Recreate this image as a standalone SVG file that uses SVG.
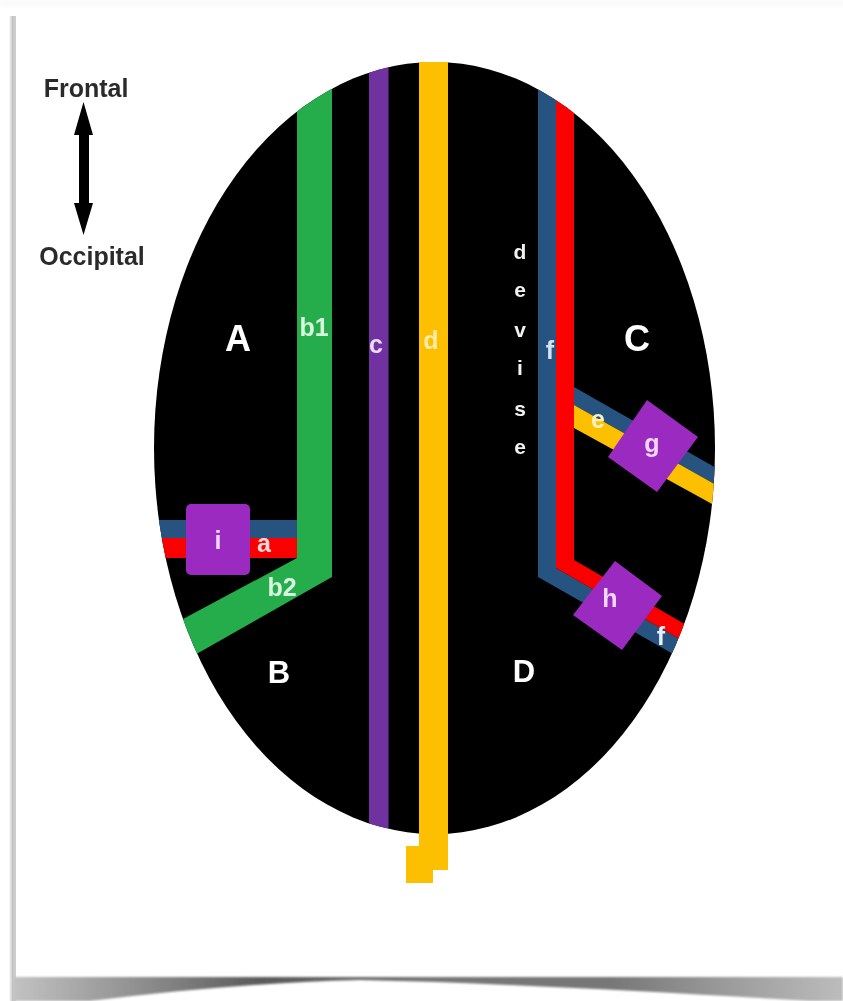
<svg xmlns="http://www.w3.org/2000/svg" width="843" height="1001" viewBox="0 0 843 1001">
<style>
text{font-family:"Liberation Sans",Arial,sans-serif;text-anchor:middle}
.big{font-size:36px;font-weight:bold;fill:#fff}
.mid{font-size:31px;font-weight:bold;fill:#fff}
.lab{font-size:25px;font-weight:bold;fill:#f4d8fa}
.vert{font-size:21px;font-weight:bold;fill:#f2f2f2}
.dir{font-size:25px;font-weight:bold;fill:#2b2b2b}
.box{fill:#9b2ac0}
.blue{fill:#25527f}
.red{fill:#fb0006}
.gold{fill:#fdc000}
</style>
<defs>
<clipPath id="head"><ellipse cx="434.5" cy="448" rx="280.5" ry="386"/></clipPath>
<linearGradient id="curl" x1="0" y1="0" x2="1" y2="0">
<stop offset="0" stop-color="#c2c2c2"/><stop offset=".16" stop-color="#8c8c8c"/><stop offset=".3" stop-color="#5a5a5a"/><stop offset=".5" stop-color="#777"/><stop offset=".72" stop-color="#777"/><stop offset=".88" stop-color="#a0a0a0"/><stop offset="1" stop-color="#bcbcbc"/>
</linearGradient>
<linearGradient id="edge" x1="0" y1="0" x2="1" y2="0">
<stop offset="0" stop-color="#fff"/><stop offset=".5" stop-color="#c4c4c4"/><stop offset="1" stop-color="#d0d0d0"/>
</linearGradient>
<filter id="soft" x="-5%" y="-20%" width="110%" height="140%"><feGaussianBlur stdDeviation="1.2"/></filter>
<filter id="blur" x="-5%" y="-5%" width="110%" height="110%"><feGaussianBlur stdDeviation="0.7"/></filter>
</defs>
<rect width="843" height="1001" fill="#fff"/>
<g id="sheet-frame">
<rect x="0" y="0" width="843" height="7" fill="#fafafa" filter="url(#soft)"/>
<rect x="9" y="16" width="7" height="985" fill="url(#edge)"/>
<path d="M14,977 L843,977 L843,1001 L810,1001 C660,992 500,983 360,980 C270,982 180,990 90,1001 L14,1001 Z" fill="url(#curl)" filter="url(#soft)"/>
</g>
<g id="head-outline"><ellipse cx="434.5" cy="448" rx="280.5" ry="386" fill="#000" filter="url(#blur)"/></g>
<g id="connectors">
<g clip-path="url(#head)" filter="url(#blur)">
<path id="tract-a-blue" class="blue" d="M150,520H297V538H150Z"/>
<path id="tract-a-red" class="red" d="M150,538H297V558H150Z"/>
<path id="tract-e-blue" class="blue" d="M574,387L725,473V490L574,405Z"/>
<path id="tract-e-gold" class="gold" d="M574,405L725,490V511L574,428Z"/>
<path id="tract-b" fill="#25ad4b" d="M297,60H332V577L170,669L170,626L297,558Z"/>
<path id="tract-c" fill="#7030a0" d="M369,50H388.500V840H369Z"/>
<path id="tract-f-blue" class="blue" d="M538,60H556V568L690,645L680,658L538,577Z"/>
<path id="tract-f-red" class="red" d="M556,60H574V560L695,630L690,645L556,568Z"/>
</g>
<path id="tract-d" class="gold" filter="url(#blur)" d="M419,62H448V870H433V883H406V846H419Z"/>
</g>
<g id="node-i"><rect class="box" x="186" y="504" width="64" height="71" rx="5" filter="url(#blur)"/><text class="lab" x="218" y="549" filter="url(#blur)">i</text></g>
<g id="node-g"><path class="box" d="M647,400L698,437L657,492L608,457Z" filter="url(#blur)"/><text class="lab" x="652" y="452" filter="url(#blur)">g</text></g>
<g id="node-h"><path class="box" d="M615,561L662,596L622,650L573,615Z" filter="url(#blur)"/><text class="lab" x="610" y="607" filter="url(#blur)">h</text></g>
<g id="labels" filter="url(#blur)">
<text class="big" x="238" y="351">A</text>
<text class="big" x="637" y="351">C</text>
<text class="mid" x="279" y="683">B</text>
<text class="mid" x="524" y="682">D</text>
<text class="lab" x="314" y="336" style="fill:#d8f5df">b1</text>
<text class="lab" x="376" y="353" style="fill:#eadcf2">c</text>
<text class="lab" x="431" y="349" style="fill:#fde9a8">d</text>
<text class="lab" x="550" y="359" style="fill:#d5e2f0">f</text>
<text class="lab" x="598" y="428" style="fill:#fdf0c0">e</text>
<text class="lab" x="661" y="645" style="fill:#e6eef7">f</text>
<text class="lab" x="264" y="552" style="fill:#ffd9d9">a</text>
<text class="lab" x="282" y="596" style="fill:#d8f5df">b2</text>
<text class="vert" x="520" y="259">d</text>
<text class="vert" x="520" y="297">e</text>
<text class="vert" x="520" y="337">v</text>
<text class="vert" x="520" y="375">i</text>
<text class="vert" x="520" y="416">s</text>
<text class="vert" x="520" y="454">e</text>
</g>
<g id="orientation" filter="url(#blur)">
<text class="dir" x="86" y="97">Frontal</text>
<text class="dir" x="92" y="265">Occipital</text>
<path fill="#000" d="M83.500,102L93,135H89V203H93L83.500,235L74,203H79V135H74Z"/>
</g>
</svg>
